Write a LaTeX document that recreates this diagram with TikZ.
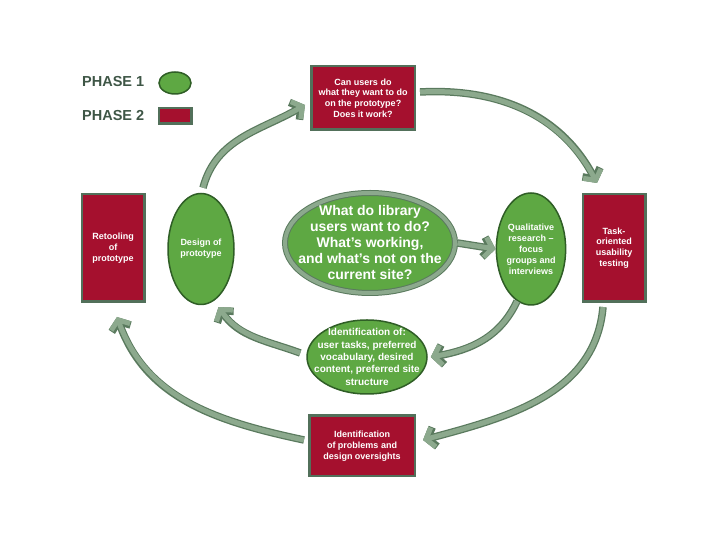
\documentclass[tikz,border=0pt]{standalone}
\usepackage{fontspec}
\setmainfont{Liberation Sans}
\usetikzlibrary{arrows.meta, positioning, shapes.geometric}
\definecolor{phasered}{HTML}{A5102E}
\definecolor{phasegreen}{HTML}{5EA843}
\definecolor{ovaledge}{HTML}{2F5E26}
\definecolor{boxedge}{HTML}{52705A}
\definecolor{arrowfill}{HTML}{8CA98D}
\definecolor{arrowdark}{HTML}{5A7A5E}
\definecolor{legendtext}{HTML}{3E5646}

\begin{document}
\begin{tikzpicture}[
    x=1pt, y=1pt,
    phasebox/.style={rectangle, fill=phasered, draw=boxedge, line width=2.5pt, text=white, align=center, font=\bfseries\fontsize{9}{10.8}\selectfont},
    phaseoval/.style={ellipse, fill=phasegreen, draw=ovaledge, line width=1.5pt, text=white, align=center, inner sep=0pt, font=\bfseries\fontsize{9}{11}\selectfont},
    flow/.style={draw=arrowfill, line width=5pt, -{Straight Barb[length=7.5pt, width=20pt]},
      preaction={draw=arrowdark, line width=7.5pt, -{Straight Barb[length=7.5pt, width=20pt]}}},
    legendlbl/.style={font=\bfseries\fontsize{14.5}{16}\selectfont, text=legendtext, anchor=west, inner sep=0pt},
]
\useasboundingbox (0,0) rectangle (720,540);

% Legend
\node[legendlbl] (p1lbl) at (82,458.5) {PHASE 1};
\node[phaseoval, minimum width=32pt, minimum height=22pt] (p1key) at (175,457) {};
\node[legendlbl] (p2lbl) at (82,424) {PHASE 2};
\node[phasebox, minimum width=32.5pt, minimum height=15.5pt, inner sep=0pt] (p2key) at (175,424) {};

% Phase 2 boxes
\node[phasebox, minimum width=103.5pt, minimum height=63.5pt] (works) at (363,442) {Can users do\\what they want to do\\on the prototype?\\Does it work?};
\node[phasebox, minimum width=62.5pt, minimum height=107.5pt] (retool) at (113,292) {Retooling\\of\\prototype};
\node[phasebox, minimum width=62.5pt, minimum height=107.5pt] (usability) at (614,292) {Task-\\oriented\\usability\\testing};
\node[phasebox, minimum width=105.5pt, minimum height=60.5pt] (problems) at (362,94) {Identification\\of problems and\\design oversights};

% Phase 1 ovals
\node[phaseoval, minimum width=66pt, minimum height=111pt] (design) at (201,291) {Design of\\prototype};
\node[phaseoval, minimum width=66pt, minimum height=112pt] (qual) at (531,291) {Qualitative\\research --\\focus\\groups and\\interviews};
\node[phaseoval, minimum width=120pt, minimum height=74pt, inner xsep=-18pt, inner ysep=-12pt,
  font=\bfseries\fontsize{10}{12.3}\selectfont] (needs) at (367,183) {Identification of:\\user tasks, preferred\\vocabulary, desired\\content, preferred site\\structure};
\node[phaseoval, draw=arrowdark, double=arrowfill, double distance=4pt, line width=1pt,
  minimum width=170pt, minimum height=100pt, inner xsep=-20pt, inner ysep=-15pt,
  font=\bfseries\fontsize{14}{16}\selectfont] (hub) at (370,297) {What do library\\users want to do?\\What's working,\\and what's not on the\\current site?};

% Outer cycle
\draw[flow] ([shift={(2pt,5pt)}]design.north) to[out=75, in=210] ([shift={(-5pt,-7pt)}]works.west);
\draw[flow] ([shift={(4pt,6pt)}]works.east) to[out=3, in=118] ([shift={(-17pt,10pt)}]usability.north);
\draw[flow] ([shift={(-11pt,-4pt)}]usability.south) to[out=-95, in=15] ([shift={(7pt,6pt)}]problems.east);
\draw[flow] ([shift={(-4pt,6pt)}]problems.west) to[out=168, in=-70] ([shift={(4pt,-14pt)}]retool.south);

% Inner cycle
\draw[flow] (qual.-105) to[out=-115, in=10] ([xshift=3pt]needs.east);
\draw[flow] ([shift={(-6pt,4pt)}]needs.west) to[out=160, in=-55] ([yshift=-10pt]design.-70);
\draw[flow] ([xshift=2pt]hub.east) -- (qual.west);

\end{tikzpicture}
\end{document}
